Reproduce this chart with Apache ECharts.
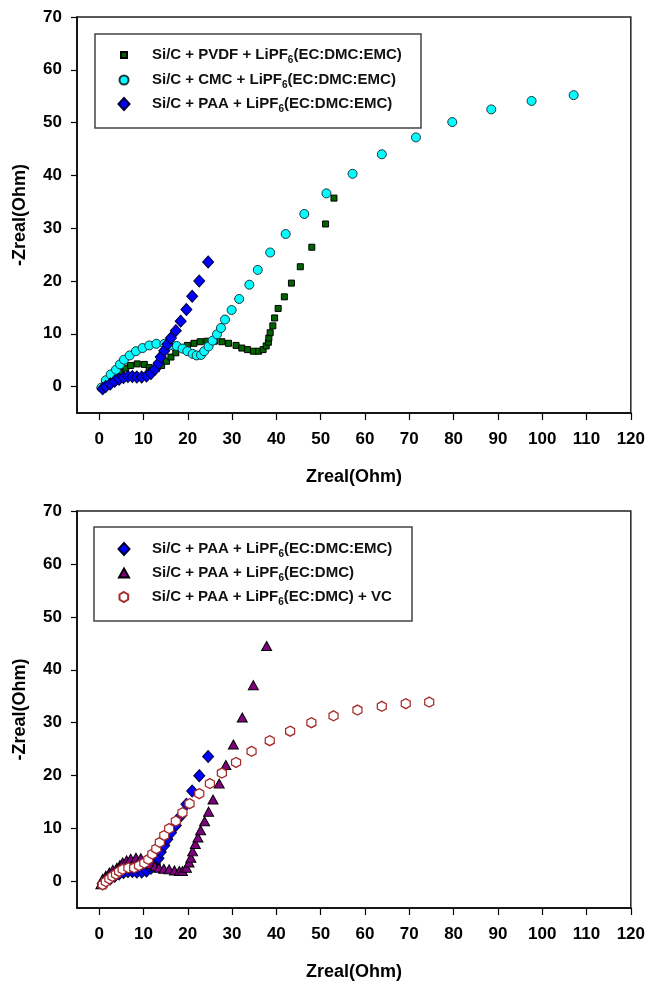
<!DOCTYPE html>
<html>
<head>
<meta charset="utf-8">
<script src="https://cdn.jsdelivr.net/npm/echarts@6/dist/echarts.min.js"></script>
<style>html,body{margin:0;padding:0;background:#fff}#c{width:648px;height:985px}</style>
</head>
<body>
<div id="c"></div>
<script>
// ---- tick labels ----
const xTicks = [0,10,20,30,40,50,60,70,80,90,100,110,120];
const yTicks = [0,10,20,30,40,50,60,70];

// ---- series names ----
const nPVDF = 'Si/C + PVDF + LiPF6(EC:DMC:EMC)';
const nCMC  = 'Si/C + CMC + LiPF6(EC:DMC:EMC)';
const nPAA  = 'Si/C + PAA + LiPF6(EC:DMC:EMC)';
const nDMC  = 'Si/C + PAA + LiPF6(EC:DMC)';
const nVC   = 'Si/C + PAA + LiPF6(EC:DMC) + VC';

// ---- data (Zreal, -Zimag) ----
const pvdfX = [0.7,1.5,2.6,3.8,4.9,6.0,7.1,8.6,10.2,11.3,11.8,12.9,14.1,15.2,16.2,17.3,18.7,19.9,21.4,22.8,24.3,26.0,27.7,29.2,30.9,32.2,33.5,34.8,36.0,37.0,37.7,38.2,38.3,38.6,39.2,39.6,40.4,41.8,43.4,45.4,48.0,51.1,53.0];
const pvdfY = [-0.3,0.4,1.2,2.0,2.8,3.5,4.0,4.3,4.2,3.6,3.0,3.4,4.0,4.8,5.6,6.4,7.2,7.8,8.2,8.5,8.6,8.6,8.5,8.2,7.8,7.3,7.0,6.7,6.7,7.0,7.7,8.4,9.2,10.2,11.5,13.0,14.8,17.0,19.6,22.7,26.4,30.8,35.7];

const cmcX = [0.5,1.5,2.6,3.8,4.7,5.6,6.9,8.3,9.8,11.3,12.9,14.7,16.2,17.5,18.8,19.9,21.1,22.0,23.0,23.7,24.7,25.6,26.6,27.5,28.4,29.9,31.6,33.9,35.8,38.6,42.1,46.3,51.3,57.2,63.8,71.5,79.7,88.5,97.6,107.1];
const cmcY = [-0.2,1.2,2.3,3.2,4.2,5.1,5.9,6.7,7.3,7.8,8.1,8.1,7.9,7.7,7.2,6.7,6.2,5.9,6.0,6.7,7.6,8.7,9.9,11.1,12.7,14.5,16.6,19.3,22.1,25.4,28.9,32.7,36.6,40.3,44.0,47.2,50.1,52.5,54.1,55.2];

const paaX = [0.8,1.5,2.5,3.5,4.5,5.5,6.5,7.5,8.5,9.6,10.7,11.7,12.6,13.4,13.9,14.7,15.4,16.2,17.3,18.4,19.7,21.0,22.6,24.6];
const paaY = [-0.4,0.0,0.5,1.0,1.4,1.7,1.9,1.9,1.8,1.8,2.0,2.5,3.3,4.4,5.6,6.8,8.0,9.2,10.6,12.4,14.6,17.1,20.0,23.6];

const dmcX = [0.4,0.8,1.5,2.3,3.1,4.0,4.7,5.3,6.2,7.1,8.3,9.4,10.5,11.7,12.6,13.5,14.6,15.8,17.0,18.1,18.8,19.7,20.3,20.7,21.1,21.7,22.3,22.9,23.8,24.7,25.7,27.1,28.6,30.3,32.3,34.8,37.8];
const dmcY = [-0.5,0.5,1.1,1.7,2.2,2.6,3.1,3.6,4.0,4.3,4.5,4.4,3.9,3.3,2.9,2.6,2.4,2.3,2.1,2.0,2.0,2.6,3.6,4.5,5.7,7.1,8.3,9.7,11.4,13.2,15.5,18.5,22.0,25.9,31.0,37.1,44.5];

const vcX = [0.8,1.5,2.3,3.0,3.8,4.5,5.3,6.6,7.9,9.0,10.2,11.1,12.0,12.9,13.7,14.7,15.8,17.3,18.8,20.4,22.6,25.0,27.7,30.9,34.4,38.5,43.1,47.9,52.9,58.3,63.8,69.2,74.5];
const vcY = [-0.6,0.0,0.5,1.0,1.4,1.9,2.3,2.6,2.6,3.0,3.5,4.2,5.2,6.2,7.4,8.7,10.0,11.4,13.0,14.7,16.6,18.5,20.5,22.5,24.6,26.6,28.4,30.0,31.3,32.4,33.1,33.6,33.9];

// ---- build ----
const zip = (xs, ys) => xs.map((x, i) => [x, ys[i]]);
const FONT = 'Liberation Sans, Arial, sans-serif';
const HEX = 'path://M0,-10 L8.66,-5 L8.66,5 L0,10 L-8.66,5 L-8.66,-5 Z';

const styles = {
  [nPVDF]: {symbol: 'rect', size: [6, 6], itemStyle: {color: '#006400', borderColor: '#000', borderWidth: 1, opacity: 1}},
  [nCMC]:  {symbol: 'circle', size: [9, 9], itemStyle: {color: '#00FFFF', borderColor: '#1c3440', borderWidth: 1, opacity: 1}},
  [nPAA]:  {symbol: 'diamond', size: [11, 12], itemStyle: {color: '#0000FF', borderColor: '#000033', borderWidth: 1, opacity: 1}},
  [nDMC]:  {symbol: 'triangle', size: [10, 9], itemStyle: {color: '#800080', borderColor: '#000', borderWidth: 1, opacity: 1}},
  [nVC]:   {symbol: HEX, size: [9, 10], itemStyle: {color: '#ffffff', borderColor: '#A52A2A', borderWidth: 1.3, opacity: 1}}
};

function xAxis(gi) {
  return {
    type: 'value', gridIndex: gi, min: -5, max: 120,
    axisLine: {show: true, onZero: false, lineStyle: {color: '#000', width: 1.5}},
    axisTick: {show: true, length: 7, customValues: xTicks, lineStyle: {color: '#000', width: 1.2}},
    axisLabel: {customValues: xTicks, margin: 18, fontSize: 17, fontWeight: 'bold', color: '#000', fontFamily: FONT},
    splitLine: {show: false},
    name: 'Zreal(Ohm)', nameLocation: 'middle', nameGap: 55,
    nameTextStyle: {fontSize: 18, fontWeight: 'bold', color: '#000', fontFamily: FONT}
  };
}
function yAxis(gi) {
  return {
    type: 'value', gridIndex: gi, min: -5, max: 70,
    axisLine: {show: true, onZero: false, lineStyle: {color: '#000', width: 1.5}},
    axisTick: {show: true, length: 6, customValues: yTicks, lineStyle: {color: '#000', width: 1.2}},
    axisLabel: {customValues: yTicks, margin: 15, fontSize: 17, fontWeight: 'bold', color: '#000', fontFamily: FONT},
    splitLine: {show: false},
    name: '-Zreal(Ohm)', nameLocation: 'middle', nameGap: 48, nameRotate: 90,
    nameTextStyle: {fontSize: 18, fontWeight: 'bold', color: '#000', fontFamily: FONT}
  };
}
function series(name, xs, ys, gi, z) {
  const s = styles[name];
  return {
    type: 'scatter', name, xAxisIndex: gi, yAxisIndex: gi, z,
    data: zip(xs, ys), symbol: s.symbol, symbolSize: s.size,
    itemStyle: s.itemStyle, emphasis: {disabled: true}, animation: false
  };
}
function legendFmt(name) {
  const i = name.indexOf('LiPF6');
  return '{g|}' + name.slice(0, i) + 'LiPF{s|6}' + name.slice(i + 5);
}
function legend(name, cx, cy) {
  const s = styles[name];
  const w = s.size[0], h = s.size[1];
  return {
    data: [name], orient: 'vertical', left: cx - w / 2, top: cy - 10, padding: 0,
    itemWidth: w, itemHeight: h, icon: s.symbol, selectedMode: false,
    itemStyle: {opacity: 1},
    formatter: legendFmt,
    textStyle: {
      fontSize: 15, fontWeight: 'bold', color: '#111', fontFamily: FONT, lineHeight: 20,
      rich: {
        g: {width: 23 - w / 2, lineHeight: 20},
        s: {fontSize: 10, fontWeight: 'bold', color: '#111', fontFamily: FONT, lineHeight: 11, verticalAlign: 'bottom'}
      }
    }
  };
}

const chart = echarts.init(document.getElementById('c'), null, {renderer: 'canvas'});
chart.setOption({
  animation: false,
  backgroundColor: '#fff',
  grid: [
    {left: 77, top: 17, width: 555, height: 396, show: true, borderColor: '#222', borderWidth: 1.5, backgroundColor: 'transparent'},
    {left: 77, top: 511, width: 555, height: 397, show: true, borderColor: '#222', borderWidth: 1.5, backgroundColor: 'transparent'}
  ],
  xAxis: [xAxis(0), xAxis(1)],
  yAxis: [yAxis(0), yAxis(1)],
  legend: [
    legend(nPVDF, 123, 55), legend(nCMC, 123, 80), legend(nPAA, 123, 104),
    legend(nPAA, 123, 549), legend(nDMC, 123, 573), legend(nVC, 123, 597)
  ],
  graphic: [
    {type: 'rect', shape: {x: 95, y: 34, width: 326, height: 94}, style: {fill: 'none', stroke: '#444', lineWidth: 1.5}, z: 1},
    {type: 'rect', shape: {x: 94, y: 527, width: 318, height: 94}, style: {fill: 'none', stroke: '#444', lineWidth: 1.5}, z: 1}
  ],
  series: [
    series(nPVDF, pvdfX, pvdfY, 0, 2),
    series(nCMC, cmcX, cmcY, 0, 3),
    series(nPAA, paaX, paaY, 0, 4),
    series(nPAA, paaX, paaY, 1, 2),
    series(nDMC, dmcX, dmcY, 1, 3),
    series(nVC, vcX, vcY, 1, 4)
  ]
});
</script>
</body>
</html>
